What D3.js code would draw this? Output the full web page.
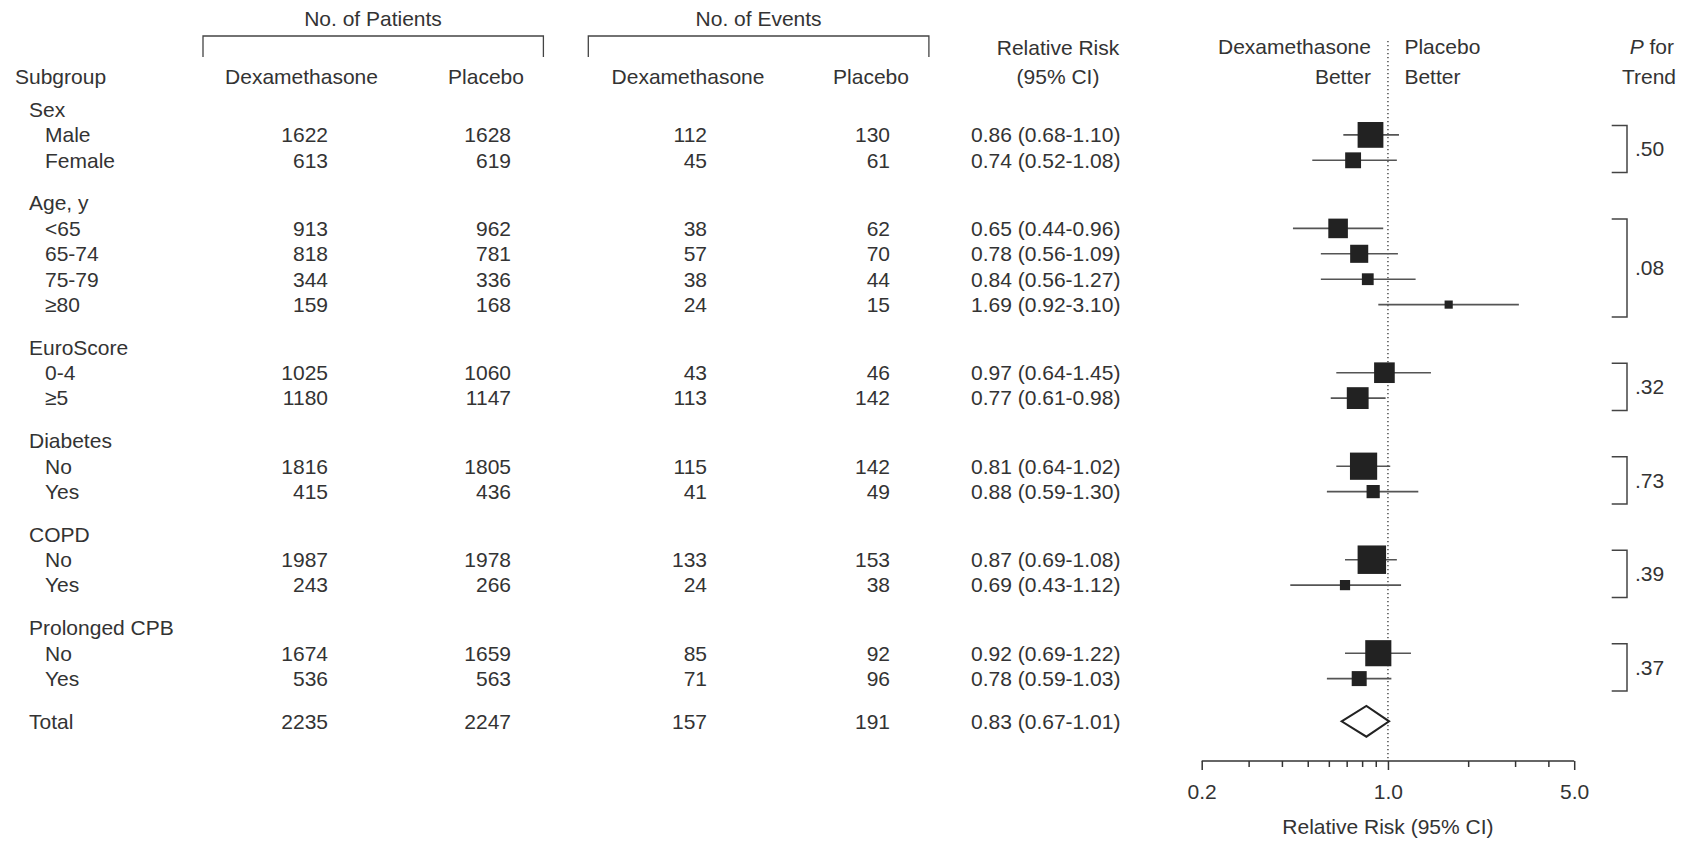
<!DOCTYPE html>
<html lang="en">
<head>
  <meta charset="UTF-8">
  <title>Dexamethasone vs Placebo: Subgroup Relative Risk</title>
  <style>
    html, body {
      margin: 0;
      padding: 0;
      background: #fff;
    }
    svg {
      display: block;
      font-family: "Liberation Sans", Arial, Helvetica, sans-serif;
    }
    text {
      fill: #333;
      font-size: 21px;
    }
  </style>
</head>
<body>
  <script src="https://d3js.org/d3.v7.min.js"></script>
  <script>
    // chart data
    const groups = ['Sex', 'Age, y', 'EuroScore', 'Diabetes', 'COPD', 'Prolonged CPB'];
    const subgroupLabels = ['Male', 'Female', '<65', '65-74', '75-79', '≥80', '0-4', '≥5', 'No', 'Yes', 'No', 'Yes', 'No', 'Yes'];
    const groupOf = [0, 0, 1, 1, 1, 1, 2, 2, 3, 3, 4, 4, 5, 5];
    const patientsDex = [1622, 613, 913, 818, 344, 159, 1025, 1180, 1816, 415, 1987, 243, 1674, 536];
    const patientsPla = [1628, 619, 962, 781, 336, 168, 1060, 1147, 1805, 436, 1978, 266, 1659, 563];
    const eventsDex = [112, 45, 38, 57, 38, 24, 43, 113, 115, 41, 133, 24, 85, 71];
    const eventsPla = [130, 61, 62, 70, 44, 15, 46, 142, 142, 49, 153, 38, 92, 96];
    const relRisk = [0.86, 0.74, 0.65, 0.78, 0.84, 1.69, 0.97, 0.77, 0.81, 0.88, 0.87, 0.69, 0.92, 0.78];
    const ciLow = [0.68, 0.52, 0.44, 0.56, 0.56, 0.92, 0.64, 0.61, 0.64, 0.59, 0.69, 0.43, 0.69, 0.59];
    const ciHigh = [1.10, 1.08, 0.96, 1.09, 1.27, 3.10, 1.45, 0.98, 1.02, 1.30, 1.08, 1.12, 1.22, 1.03];
    const pTrend = ['.50', '.08', '.32', '.73', '.39', '.37'];
    const totalPatients = [2235, 2247];
    const totalEvents = [157, 191];
    const totalRisk = [0.83, 0.67, 1.01];
    const axisTicks = [0.2, 0.3, 0.4, 0.5, 0.6, 0.7, 0.8, 0.9, 1, 2, 3, 4, 5];
    const axisLabels = [0.2, 1, 5];

    const width = 1683;
    const height = 841;

    const svg = d3.select('body')
      .append('svg')
      .attr('width', width)
      .attr('height', height);

    // log scale for relative risk
    const x = d3.scaleLog()
      .domain([0.2, 5])
      .range([1201.7, 1574.2]);

    // box side grows with sqrt of patients in the subgroup
    const boxSize = d3.scaleSqrt()
      .domain([0, 4000])
      .range([0, 28.6]);

    // row layout: heading + subrows per group, gap between groups
    const rowStep = 25.4;
    const groupGap = 17.3;
    const firstRow = 109.5;
    const rows = [];
    let slot = 0;
    groups.forEach((g, gi) => {
      rows.push({ type: 'group', label: g, y: firstRow + slot * rowStep + gi * groupGap });
      slot++;
      subgroupLabels.forEach((lab, i) => {
        if (groupOf[i] !== gi) return;
        rows.push({ type: 'sub', i: i, label: lab, y: firstRow + slot * rowStep + gi * groupGap });
        slot++;
      });
    });
    const totalY = firstRow + slot * rowStep + groups.length * groupGap;
    const subRows = rows.filter(r => r.type === 'sub');

    // column anchors
    const col = {
      label: 15, subLabel: 45,
      patDex: 328, patPla: 511,
      evDex: 707, evPla: 890,
      rr: 971
    };

    function addText(tx, ty, str, anchor) {
      return svg.append('text')
        .attr('x', tx)
        .attr('y', ty)
        .attr('dy', '0.35em')
        .attr('text-anchor', anchor || 'start')
        .text(str);
    }

    // column headers
    addText(373, 18.5, 'No. of Patients', 'middle');
    addText(758.6, 18.5, 'No. of Events', 'middle');
    [[203, 543.4], [588.3, 928.9]].forEach(b => {
      svg.append('path')
        .attr('d', `M${b[0]},57V36H${b[1]}V57`)
        .attr('fill', 'none')
        .attr('stroke', '#444')
        .attr('stroke-width', 1.3);
    });
    addText(col.label, 77, 'Subgroup');
    addText(301.5, 77, 'Dexamethasone', 'middle');
    addText(486, 77, 'Placebo', 'middle');
    addText(688, 77, 'Dexamethasone', 'middle');
    addText(871, 77, 'Placebo', 'middle');
    addText(1058, 48, 'Relative Risk', 'middle');
    addText(1058, 77, '(95% CI)', 'middle');
    addText(x(1) - 17, 47, 'Dexamethasone', 'end');
    addText(x(1) - 17, 76.5, 'Better', 'end');
    addText(x(1) + 16.5, 47, 'Placebo');
    addText(x(1) + 16.5, 76.5, 'Better');
    const pHead = addText(1674, 47, '', 'end');
    pHead.append('tspan').attr('font-style', 'italic').text('P');
    pHead.append('tspan').text(' for');
    addText(1676, 76.5, 'Trend', 'end');

    // table text
    rows.forEach(r => {
      if (r.type === 'group') {
        addText(col.label + 14, r.y, r.label);
      } else {
        const i = r.i;
        addText(col.subLabel, r.y, r.label);
        addText(col.patDex, r.y, patientsDex[i], 'end');
        addText(col.patPla, r.y, patientsPla[i], 'end');
        addText(col.evDex, r.y, eventsDex[i], 'end');
        addText(col.evPla, r.y, eventsPla[i], 'end');
        addText(col.rr, r.y, `${relRisk[i].toFixed(2)} (${ciLow[i].toFixed(2)}-${ciHigh[i].toFixed(2)})`);
      }
    });
    addText(col.label + 14, totalY, 'Total');
    addText(col.patDex, totalY, totalPatients[0], 'end');
    addText(col.patPla, totalY, totalPatients[1], 'end');
    addText(col.evDex, totalY, totalEvents[0], 'end');
    addText(col.evPla, totalY, totalEvents[1], 'end');
    addText(col.rr, totalY, `${totalRisk[0].toFixed(2)} (${totalRisk[1].toFixed(2)}-${totalRisk[2].toFixed(2)})`);

    // reference line at 1.0
    const axisY = 761;
    svg.append('line')
      .attr('x1', x(1)).attr('x2', x(1))
      .attr('y1', 41).attr('y2', axisY)
      .attr('stroke', '#222')
      .attr('stroke-width', 1.2)
      .attr('stroke-dasharray', '1.3,2.7');

    // CI lines and boxes
    const g = svg.append('g');
    g.selectAll('line.ci')
      .data(subRows)
      .enter()
      .append('line')
      .attr('class', 'ci')
      .attr('x1', d => x(ciLow[d.i]))
      .attr('x2', d => x(ciHigh[d.i]))
      .attr('y1', d => d.y)
      .attr('y2', d => d.y)
      .attr('stroke', '#555')
      .attr('stroke-width', 1.6);

    g.selectAll('rect.box')
      .data(subRows)
      .enter()
      .append('rect')
      .attr('class', 'box')
      .attr('x', d => x(relRisk[d.i]) - boxSize(patientsDex[d.i] + patientsPla[d.i]) / 2)
      .attr('y', d => d.y - boxSize(patientsDex[d.i] + patientsPla[d.i]) / 2)
      .attr('width', d => boxSize(patientsDex[d.i] + patientsPla[d.i]))
      .attr('height', d => boxSize(patientsDex[d.i] + patientsPla[d.i]))
      .attr('fill', '#222');

    // total diamond
    const dh = 15.4;
    svg.append('path')
      .attr('d', `M${x(totalRisk[1])},${totalY}L${x(totalRisk[0])},${totalY - dh}L${x(totalRisk[2])},${totalY}L${x(totalRisk[0])},${totalY + dh}Z`)
      .attr('fill', '#fff')
      .attr('stroke', '#222')
      .attr('stroke-width', 2);

    // P for trend brackets
    groups.forEach((gName, gi) => {
      const ys = subRows.filter(r => groupOf[r.i] === gi).map(r => r.y);
      const top = d3.min(ys) - 9.5;
      const bot = d3.max(ys) + 12.3;
      svg.append('path')
        .attr('d', `M1611.7,${top}H1627V${bot}H1611.7`)
        .attr('fill', 'none')
        .attr('stroke', '#444')
        .attr('stroke-width', 1.5);
      addText(1635, (top + bot) / 2, pTrend[gi]);
    });

    // x axis
    const axis = d3.axisBottom(x)
      .tickValues(axisTicks)
      .tickSize(6)
      .tickFormat(d => axisLabels.includes(d) ? d3.format('.1f')(d) : '');

    const ax = svg.append('g')
      .attr('transform', `translate(0,${axisY})`)
      .call(axis);
    ax.select('.domain')
      .attr('d', `M${x(0.2)},0H${x(5)}`)
      .attr('stroke', '#333')
      .attr('stroke-width', 1.5);
    ax.selectAll('.tick line')
      .attr('stroke', '#333')
      .attr('stroke-width', 1.5)
      .attr('y2', d => axisLabels.includes(d) ? 9 : 6);
    ax.selectAll('.tick text')
      .attr('y', 31)
      .attr('dy', '0.35em')
      .style('fill', '#333');
    ax.attr('font-family', null).attr('font-size', null);

    addText(x(1), 826.7, 'Relative Risk (95% CI)', 'middle');
  </script>
</body>
</html>
